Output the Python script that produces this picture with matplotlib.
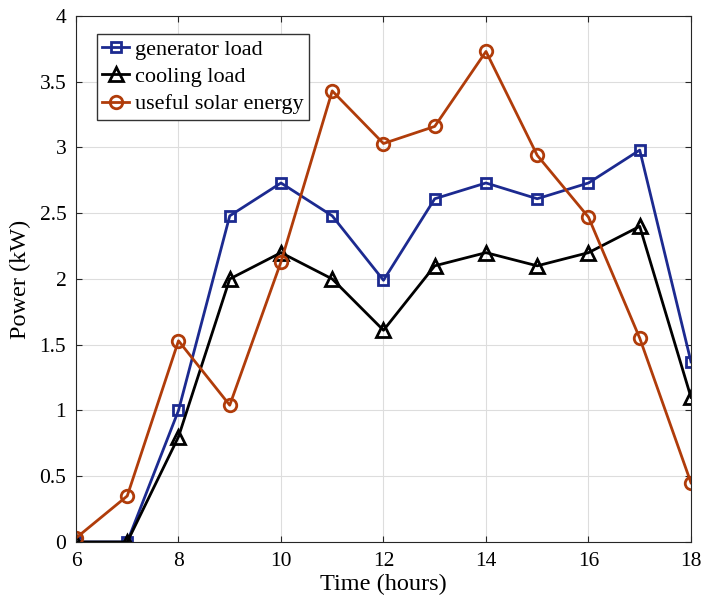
import matplotlib
matplotlib.use("Agg")
import matplotlib.pyplot as plt

hours = [6, 7, 8, 9, 10, 11, 12, 13, 14, 15, 16, 17, 18]
generator_load = [0, 0, 1.0, 2.48, 2.73, 2.48, 1.99, 2.61, 2.73, 2.61, 2.73, 2.98, 1.37]
cooling_load = [0, 0, 0.8, 2.0, 2.2, 2.0, 1.61, 2.1, 2.2, 2.1, 2.2, 2.4, 1.1]
solar_energy = [0.03, 0.35, 1.53, 1.04, 2.13, 3.43, 3.03, 3.16, 3.73, 2.94, 2.47, 1.55, 0.45]

plt.rcParams['font.family'] = ['Liberation Serif', 'DejaVu Serif']

fig = plt.figure(figsize=(7.03, 6.02), dpi=100)
ax = fig.add_axes([0.1081, 0.0997, 0.8748, 0.8738])

ax.plot(hours, generator_load, color='#1c2a90', lw=2, marker='s', ms=7,
        mfc='none', mew=2, label='generator load')
ax.plot(hours, cooling_load, color='black', lw=2, marker='^', ms=10,
        mfc='none', mew=2, label='cooling load')
ax.plot(hours, solar_energy, color='#b03c0a', lw=2, marker='o', ms=9,
        mfc='none', mew=2, label='useful solar energy')

ax.set_xlim(6, 18)
ax.set_ylim(0, 4)
ax.set_xticks(range(6, 19, 2))
ax.set_yticks([0, 0.5, 1, 1.5, 2, 2.5, 3, 3.5, 4])
ax.set_yticklabels(['0', '0.5', '1', '1.5', '2', '2.5', '3', '3.5', '4'])
ax.tick_params(direction='in', labelsize=15.5, top=True, right=True,
               length=4, pad=7, color='#262626')
for s in ax.spines.values():
    s.set_color('#262626')
ax.grid(True, color='#dddddd', lw=0.8)
ax.set_xlabel('Time (hours)', fontsize=17.5, labelpad=2)
ax.set_ylabel('Power (kW)', fontsize=17.5)
ax.yaxis.set_label_coords(-0.073, 0.5)

leg = ax.legend(loc='upper left', bbox_to_anchor=(0.034, 0.966), fontsize=16,
                fancybox=False, framealpha=1, edgecolor='#333333',
                handlelength=1.2, handletextpad=0.25, borderpad=0.25,
                labelspacing=0.3, borderaxespad=0)
leg.get_frame().set_linewidth(1.0)

fig.savefig('out.png', dpi=100)
